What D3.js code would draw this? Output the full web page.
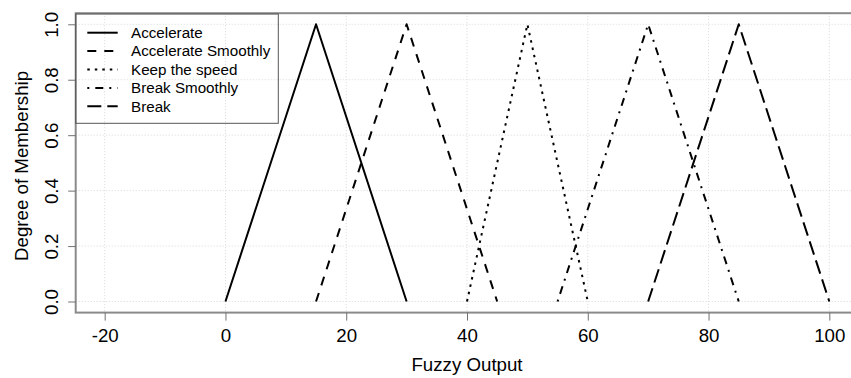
<!DOCTYPE html>
<html>
<head>
<meta charset="utf-8">
<script src="https://cdn.jsdelivr.net/npm/d3@7"></script>
<style>
  html, body { margin: 0; padding: 0; background: #fff; }
  svg { display: block; font-family: "Liberation Sans", Arial, sans-serif; }
</style>
</head>
<body>
<svg id="chart" width="851" height="378"></svg>
<script>
// ---- data ----
const seriesNames = ["Accelerate", "Accelerate Smoothly", "Keep the speed", "Break Smoothly", "Break"];
const accelerateX = [0, 15, 30];
const accelerateSmoothlyX = [15, 30, 45];
const keepSpeedX = [40, 50, 60];
const breakSmoothlyX = [55, 70, 85];
const breakX = [70, 85, 100];
const membershipY = [0, 1, 0];
const xTicks = [-20, 0, 20, 40, 60, 80, 100];
const yTicks = [0, 0.2, 0.4, 0.6, 0.8, 1.0];
const xLabel = "Fuzzy Output";
const yLabel = "Degree of Membership";

(function () {
const seriesX = [accelerateX, accelerateSmoothlyX, keepSpeedX, breakSmoothlyX, breakX];
const dashes = [null, "9,8", "2.5,5", "2,6,8,6", "14,6"];

const svg = d3.select("#chart");
const pL = 75.7, pR = 858.3, pT = 13.2, pB = 312.6;
const x = d3.scaleLinear().domain([-24.8, 104.8]).range([pL, pR]);
const y = d3.scaleLinear().domain([-0.04, 1.04]).range([pB, pT]);
const fs = 18.7;

// grid
const grid = svg.append("g");
grid.selectAll("line.vx").data(xTicks).join("line")
  .attr("x1", d => x(d)).attr("x2", d => x(d))
  .attr("y1", pT).attr("y2", pB)
  .attr("stroke", "#d8d8d8").attr("stroke-width", 1).attr("stroke-dasharray", "1,2");
grid.selectAll("line.hy").data(yTicks).join("line")
  .attr("x1", pL).attr("x2", pR)
  .attr("y1", d => y(d)).attr("y2", d => y(d))
  .attr("stroke", "#d8d8d8").attr("stroke-width", 1).attr("stroke-dasharray", "1,2");

// series lines
const line = d3.line().x(d => x(d[0])).y(d => y(d[1]));
seriesX.forEach((xs, i) => {
  const pts = xs.map((v, j) => [v, membershipY[j]]);
  svg.append("path").datum(pts)
    .attr("d", line)
    .attr("fill", "none")
    .attr("stroke", "#000")
    .attr("stroke-width", 2)
    .attr("stroke-dasharray", dashes[i])
    .attr("stroke-linejoin", "round");
});

// box
svg.append("rect")
  .attr("x", pL).attr("y", pT)
  .attr("width", pR - pL).attr("height", pB - pT)
  .attr("fill", "none").attr("stroke", "#8a8a8a").attr("stroke-width", 2);

// x axis
const xAxis = d3.axisBottom(x).tickValues(xTicks).tickSize(8).tickPadding(5)
  .tickFormat(d => d < 0 ? "-" + Math.abs(d) : String(d));
const gx = svg.append("g").attr("transform", `translate(0,${pB})`).call(xAxis);
gx.select(".domain").remove();
gx.selectAll(".tick line").attr("stroke", "#707070").attr("stroke-width", 1);
gx.selectAll(".tick text").attr("font-size", fs).attr("fill", "#000")
  .attr("font-family", "Liberation Sans, Arial, sans-serif")
  .attr("dy", null).attr("y", 29);

// y axis
const yAxis = d3.axisLeft(y).tickValues(yTicks).tickSize(7.5).tickFormat(d3.format(".1f"));
const gy = svg.append("g").attr("transform", `translate(${pL},0)`).call(yAxis);
gy.select(".domain").remove();
gy.selectAll(".tick line").attr("stroke", "#707070").attr("stroke-width", 1);
gy.selectAll(".tick text")
  .attr("font-size", fs).attr("fill", "#000")
  .attr("font-family", "Liberation Sans, Arial, sans-serif")
  .attr("x", null).attr("dy", null)
  .attr("text-anchor", "middle")
  .attr("transform", `translate(${58.5 - pL},0) rotate(-90)`);

// axis titles
svg.append("text").attr("x", (pL + pR) / 2).attr("y", 370.5)
  .attr("text-anchor", "middle").attr("font-size", fs).text(xLabel);
svg.append("text")
  .attr("transform", `translate(27.5,${(pT + pB) / 2 + 3}) rotate(-90)`)
  .attr("text-anchor", "middle").attr("font-size", fs).text(yLabel);

// legend
const lg = svg.append("g");
lg.append("rect").attr("x", pL).attr("y", 14).attr("width", 278.3 - pL).attr("height", 123.3 - 14)
  .attr("fill", "none").attr("stroke", "#555").attr("stroke-width", 1);
seriesNames.forEach((name, i) => {
  const yy = 32.7 + i * 18.4;
  lg.append("line").attr("x1", 87.3).attr("x2", 117.7).attr("y1", yy).attr("y2", yy)
    .attr("stroke", "#000").attr("stroke-width", 2).attr("stroke-dasharray", dashes[i]);
  lg.append("text").attr("x", 131).attr("y", yy).attr("dy", "0.35em")
    .attr("font-size", 15.2).text(name);
});
})();
</script>
</body>
</html>
